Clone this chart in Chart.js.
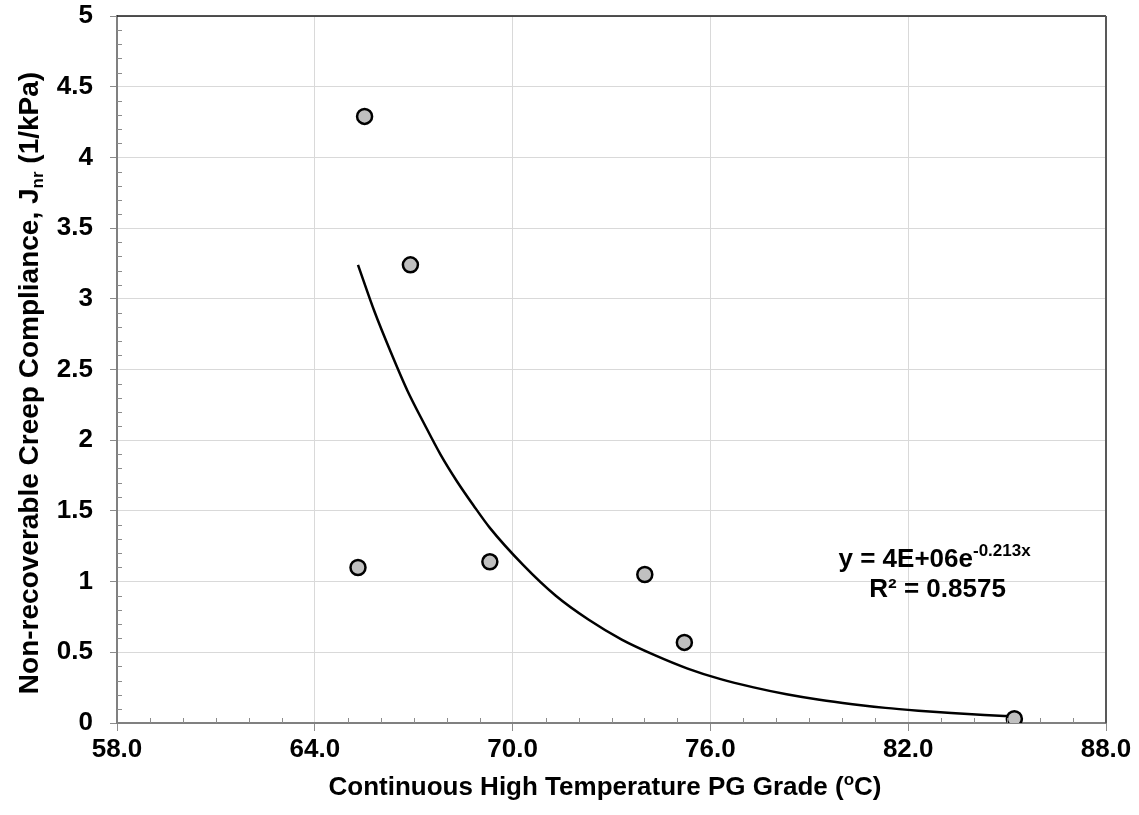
<!DOCTYPE html>
<html>
<head>
<meta charset="utf-8">
<script src="https://cdn.jsdelivr.net/npm/chart.js@4.4.1/dist/chart.umd.min.js"></script>
<style>
  html, body { margin: 0; padding: 0; background: #ffffff; }
  #wrap { width: 1139px; height: 815px; }
</style>
</head>
<body>
<div id="wrap"><canvas id="jnrChart"></canvas></div>
<script>
// ## DATA ##
const xTicks = [58, 64, 70, 76, 82, 88];
const xTickLabels = ["58.0", "64.0", "70.0", "76.0", "82.0", "88.0"];
const yTicks = [0, 0.5, 1, 1.5, 2, 2.5, 3, 3.5, 4, 4.5, 5];
const yTickLabels = ["0", "0.5", "1", "1.5", "2", "2.5", "3", "3.5", "4", "4.5", "5"];

const pgGrade = [65.51, 66.9, 65.31, 69.31, 74.01, 75.21, 85.22];
const jnrValues = [4.29, 3.24, 1.1, 1.14, 1.05, 0.57, 0.03];

// exponential trendline
const trendX = [65.31, 65.81, 66.31, 66.81, 67.31, 67.81, 68.31, 68.81, 69.31, 70.31, 71.31, 72.31, 73.31, 74.31, 75.31, 76.31, 77.31, 78.31, 79.31, 80.31, 81.31, 82.31, 83.31, 84.31, 85.22];
const trendY = [3.24, 2.91, 2.62, 2.35, 2.12, 1.9, 1.71, 1.54, 1.38, 1.12, 0.9, 0.73, 0.59, 0.48, 0.385, 0.31, 0.252, 0.203, 0.164, 0.133, 0.107, 0.087, 0.07, 0.057, 0.047];

const FONT = "'Liberation Sans', Arial, sans-serif";

// draws minor ticks, plot frame, axis titles and the trend equation
const extrasPlugin = {
  id: "extras",
  afterDraw(chart) {
    const ctx = chart.ctx;
    const area = chart.chartArea;
    const xs = chart.scales.x;
    const ys = chart.scales.y;
    ctx.save();

    // minor ticks
    ctx.strokeStyle = "#8c8c8c";
    ctx.lineWidth = 1;
    ctx.beginPath();
    for (let v = 58; v <= 88; v += 1) {
      if ((v - 58) % 6 === 0) continue;
      const px = Math.round(xs.getPixelForValue(v)) + 0.5;
      ctx.moveTo(px, area.bottom);
      ctx.lineTo(px, area.bottom - 5);
    }
    for (let i = 1; i < 50; i++) {
      if (i % 5 === 0) continue;
      const py = Math.round(ys.getPixelForValue(i / 10)) + 0.5;
      ctx.moveTo(area.left, py);
      ctx.lineTo(area.left + 5, py);
    }
    ctx.stroke();

    // frame top / right
    ctx.strokeStyle = "#1a1a1a";
    ctx.lineWidth = 1.5;
    ctx.beginPath();
    ctx.moveTo(area.left, area.top);
    ctx.lineTo(area.right, area.top);
    ctx.stroke();
    ctx.strokeStyle = "#595959";
    ctx.lineWidth = 2;
    ctx.beginPath();
    ctx.moveTo(area.right, area.top);
    ctx.lineTo(area.right, area.bottom);
    ctx.stroke();

    ctx.fillStyle = "#000000";
    ctx.textBaseline = "alphabetic";

    // x title with superscript
    const big = "bold 26px " + FONT;
    const small = "bold 17px " + FONT;
    const xParts = [
      { t: "Continuous High Temperature PG Grade (", f: big, dy: 0 },
      { t: "o", f: small, dy: -10 },
      { t: "C)", f: big, dy: 0 },
    ];
    drawParts(ctx, xParts, 605, 795);

    // y title with subscript, rotated
    const yBig = "bold 28px " + FONT;
    const yParts = [
      { t: "Non-recoverable Creep Compliance, J", f: yBig, dy: 0 },
      { t: "nr", f: small, dy: 5 },
      { t: " (1/kPa)", f: yBig, dy: 0 },
    ];
    ctx.save();
    ctx.translate(38, 383);
    ctx.rotate(-Math.PI / 2);
    drawParts(ctx, yParts, 0, 0);
    ctx.restore();

    // trend equation
    const ex = xs.getPixelForValue(82.8);
    const ey = ys.getPixelForValue(1.1);
    const eqParts = [
      { t: "y = 4E+06e", f: big, dy: 0 },
      { t: "-0.213x", f: small, dy: -11 },
    ];
    drawParts(ctx, eqParts, ex, ey);
    drawParts(ctx, [{ t: "R\u00b2 = 0.8575", f: big, dy: 0 }], ex + 3, ey + 30);

    ctx.restore();
  },
};

function drawParts(ctx, parts, cx, baseY) {
  let total = 0;
  parts.forEach((p) => {
    ctx.font = p.f;
    p.w = ctx.measureText(p.t).width;
    total += p.w;
  });
  let x = cx - total / 2;
  ctx.textAlign = "left";
  parts.forEach((p) => {
    ctx.font = p.f;
    ctx.fillText(p.t, x, baseY + p.dy);
    x += p.w;
  });
}

const ctx = document.getElementById("jnrChart").getContext("2d");

window.jnrChart = new Chart(ctx, {
  type: "scatter",
  data: {
    datasets: [
      {
        label: "Jnr",
        data: pgGrade.map((x, i) => ({ x: x, y: jnrValues[i] })),
        backgroundColor: "#c0c0c0",
        borderColor: "#000000",
        borderWidth: 2.5,
        pointRadius: 7.5,
        order: 0,
      },
      {
        label: "Expon. trend",
        data: trendX.map((x, i) => ({ x: x, y: trendY[i] })),
        showLine: true,
        borderColor: "#000000",
        borderWidth: 2.5,
        pointRadius: 0,
        cubicInterpolationMode: "monotone",
        order: 1,
      },
    ],
  },
  options: {
    responsive: true,
    maintainAspectRatio: false,
    animation: false,
    layout: {
      padding: { top: 0, right: 33, left: 0, bottom: 0 },
    },
    plugins: {
      legend: { display: false },
      tooltip: { enabled: false },
    },
    scales: {
      x: {
        type: "linear",
        min: 58,
        max: 88,
        afterBuildTicks: (scale) => {
          scale.ticks = xTicks.map((v) => ({ value: v }));
        },
        afterFit: (scale) => {
          scale.height = 92;
        },
        ticks: {
          color: "#000000",
          padding: 3,
          maxRotation: 0,
          font: { family: FONT, size: 26, weight: "bold" },
          callback: (value) => xTickLabels[xTicks.indexOf(value)],
        },
        grid: {
          color: "#d9d9d9",
          lineWidth: 1,
          tickColor: "#8c8c8c",
          tickLength: 8,
        },
        border: { color: "#808080", width: 2 },
      },
      y: {
        type: "linear",
        min: 0,
        max: 5,
        afterBuildTicks: (scale) => {
          scale.ticks = yTicks.map((v) => ({ value: v }));
        },
        afterFit: (scale) => {
          scale.width = 117;
          scale.paddingTop = 16;
          scale.paddingBottom = 0;
        },
        ticks: {
          color: "#000000",
          padding: 17,
          font: { family: FONT, size: 26, weight: "bold" },
          callback: (value) => yTickLabels[yTicks.indexOf(value)],
        },
        grid: {
          color: "#d9d9d9",
          lineWidth: 1,
          tickColor: "#8c8c8c",
          tickLength: 7,
        },
        border: { color: "#808080", width: 2 },
      },
    },
  },
  plugins: [extrasPlugin],
});
</script>
</body>
</html>
